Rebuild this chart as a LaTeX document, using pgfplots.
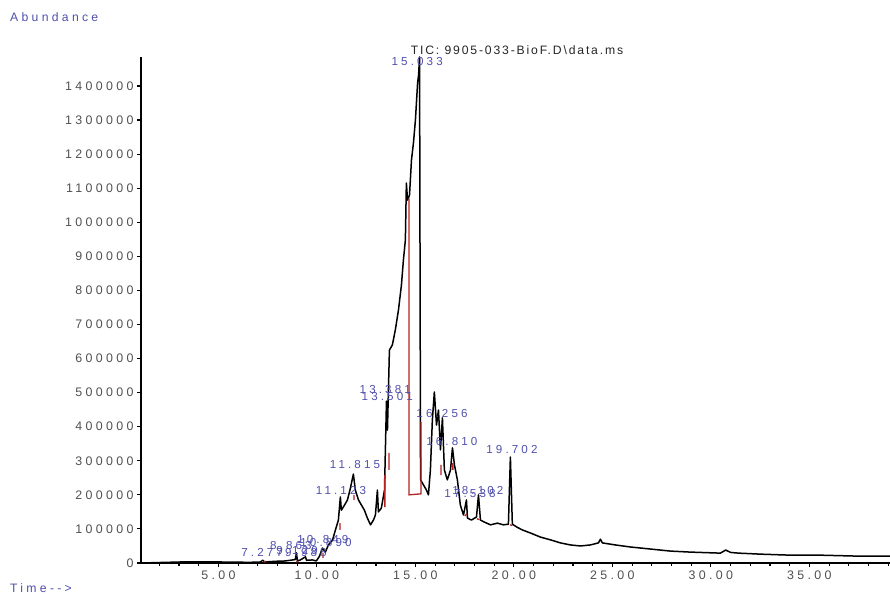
\documentclass[border=0pt]{standalone}
\usepackage{fontspec}
\usepackage{pgfplots}
\pgfplotsset{compat=1.18}
\setmainfont{Liberation Sans}
\newfontfamily\tickfont[LetterSpace=27]{Liberation Sans}
\newfontfamily\titlefont[LetterSpace=15]{Liberation Sans}
\definecolor{pkblue}{HTML}{4F4FAE}
\definecolor{tkgrey}{HTML}{505050}
\definecolor{intred}{HTML}{B22222}

\begin{document}
\begin{tikzpicture}[x=1pt,y=1pt]
\useasboundingbox (0,0) rectangle (890,595);
\begin{axis}[
  at={(141pt,32pt)}, anchor=south west,
  scale only axis, width=749pt, height=506pt,
  xmin=1.07, xmax=39.09, ymin=0, ymax=1485000,
  axis x line=bottom, axis y line=left,
  axis line style={-,black,line width=1.5pt},
  y axis line style={line width=2pt},
  tick align=outside,
  tick style={black,line width=1.1pt},
  major tick length=4pt, minor tick length=2.5pt,
  xtick={5,10,15,20,25,30,35},
  xticklabels={5.00,10.00,15.00,20.00,25.00,30.00,35.00},
  minor xtick={2,3,...,39},
  ytick={0,100000,200000,300000,400000,500000,600000,700000,800000,900000,1000000,1100000,1200000,1300000,1400000},
  yticklabels={0,100000,200000,300000,400000,500000,600000,700000,800000,900000,1000000,1100000,1200000,1300000,1400000},
  scaled y ticks=false,
  tick label style={font=\tickfont\fontsize{12.4}{14}\selectfont, text=tkgrey},
  clip=false,
  unbounded coords=jump,
]
% total ion chromatogram
\addplot[black, line width=1.5pt, line join=round] coordinates {
(1.09,0) (3.07,3000) (5.10,3000) (6.60,2000) (7.13,3000) (7.25,8000) (7.35,3000)
(7.89,5000) (8.40,6000) (8.76,9000) (8.90,10000) (8.96,30000) (9.01,6000)
(9.16,9000) (9.42,18000) (9.47,8000) (9.77,9000) (9.97,6000) (10.13,20000)
(10.28,44000) (10.43,32000) (10.58,53000) (10.79,67000) (10.94,97000)
(11.09,126000) (11.19,194000) (11.24,155000) (11.40,170000) (11.55,185000)
(11.70,220000) (11.85,261000) (11.95,214000) (12.11,185000) (12.26,170000)
(12.41,155000) (12.56,132000) (12.72,112000) (12.87,126000) (12.97,141000)
(13.07,214000) (13.12,150000) (13.27,161000) (13.43,214000) (13.53,475000)
(13.58,390000) (13.68,625000) (13.83,640000) (13.98,684000) (14.14,743000)
(14.29,816000) (14.39,889000) (14.49,948000) (14.54,1115000) (14.60,1065000)
(14.70,1080000) (14.80,1183000) (14.90,1233000) (15.00,1300000)
(15.11,1409000) (15.16,1432000) (15.21,1485000) (15.26,244000)
(15.41,229000) (15.56,214000) (15.66,200000) (15.76,273000) (15.86,420000)
(15.96,502000) (16.07,405000) (16.17,449000) (16.27,332000) (16.37,426000)
(16.47,273000) (16.62,244000) (16.78,273000) (16.88,338000) (16.98,288000)
(17.13,244000) (17.28,170000) (17.44,141000) (17.59,185000) (17.64,132000)
(17.84,126000) (18.10,135000) (18.20,200000) (18.30,126000) (18.50,120000)
(18.81,112000) (19.16,117000) (19.47,112000) (19.72,114000) (19.82,311000)
(19.92,114000) (20.13,106000) (20.43,97000) (20.84,88000) (21.35,76000)
(21.85,68000) (22.36,59000) (22.87,53000) (23.38,50000) (23.88,53000)
(24.29,59000) (24.39,70000) (24.49,59000) (25.15,53000) (25.91,47000)
(26.93,41000) (27.94,35000) (28.96,32000) (30.48,29000) (30.75,38000)
(31.00,31000) (31.40,29000) (32.51,26000) (34.04,23000) (35.56,23000)
(37.59,20000) (39.09,20000)
};
% integration baselines
\addplot[intred, line width=1.3pt] coordinates {
(14.67,1070000) (14.67,200000) (15.28,203000) (15.28,414000)
(15.28,nan)
(13.45,164000) (13.45,258000) (13.45,nan)
(13.66,273000) (13.66,323000) (13.66,nan)
(11.17,97000) (11.17,117000) (11.17,nan)
(11.88,185000) (11.88,200000) (11.88,nan)
(16.30,258000) (16.30,288000) (16.30,nan)
(16.90,273000) (16.90,293000) (16.90,nan)
(17.50,138000) (17.62,144000) (17.62,nan)
(18.12,130000) (18.25,127000) (18.25,nan)
(19.80,112000) (19.92,110000) (19.92,nan)
(10.31,15000) (10.31,29000) (10.31,nan)
(7.30,3000) (7.42,5000) (7.42,nan)
(8.95,3000) (9.05,5000)
};
% peak labels
\begin{scope}[every node/.style={font=\tickfont\fontsize{11.6}{13}\selectfont, text=pkblue, inner sep=0pt}]
\node at (axis cs:7.22,32000) {7.277};
\node at (axis cs:8.68,50000) {8.863};
\node at (axis cs:8.99,38000) {9.129};
\node at (axis cs:9.44,32000) {9.988};
\node at (axis cs:10.30,67500) {10.849};
\node at (axis cs:10.46,61600) {10.890};
\node at (axis cs:11.22,214000) {11.123};
\node at (axis cs:11.93,288000) {11.815};
\node at (axis cs:13.47,508000) {13.381};
\node at (axis cs:13.57,490000) {13.501};
\node at (axis cs:15.09,1473000) {15.033};
\node at (axis cs:16.35,440000) {16.256};
\node at (axis cs:16.85,358000) {16.810};
\node at (axis cs:17.77,205000) {17.538};
\node at (axis cs:18.17,214000) {18.102};
\node at (axis cs:19.90,332000) {19.702};
\end{scope}
\end{axis}
\node[font=\titlefont\fontsize{12.2}{14}\selectfont, text=black!85, inner sep=0pt] at (517,545) {TIC: 9905-033-BioF.D\textbackslash data.ms};
\node[font=\tickfont\fontsize{12.2}{14}\selectfont, text=pkblue, inner sep=0pt, anchor=west] at (10,578) {Abundance};
\node[font=\tickfont\fontsize{12.2}{14}\selectfont, text=pkblue, inner sep=0pt, anchor=west] at (10,7) {Time-->};
\end{tikzpicture}
\end{document}
